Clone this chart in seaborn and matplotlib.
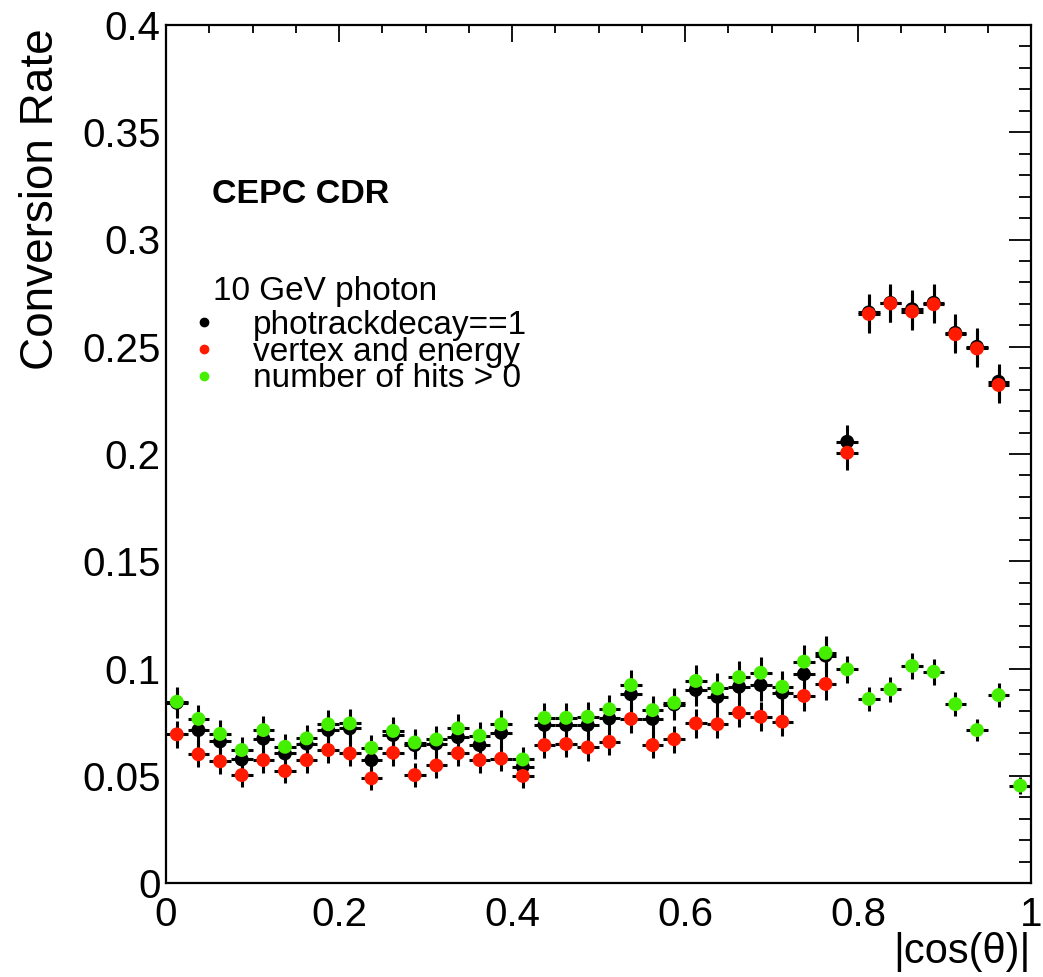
import numpy as np
import pandas as pd
import matplotlib
matplotlib.use("Agg")
import matplotlib.pyplot as plt
import seaborn as sns
from matplotlib.lines import Line2D
from matplotlib.ticker import MultipleLocator, FuncFormatter

# ---------------- data ----------------
bin_width = 0.025
cos_theta = np.arange(40) * bin_width + bin_width / 2  # bin centres of |cos(theta)|

series_names = ["photrackdecay==1", "vertex and energy", "number of hits > 0"]
series_colors = ["#000000", "#ff1a00", "#44f000"]

rate_photrack = [0.0840, 0.0713, 0.0660, 0.0576, 0.0673, 0.0604, 0.0650, 0.0713, 0.0721, 0.0573,
                 0.0690, 0.0643, 0.0650, 0.0680, 0.0643, 0.0700, 0.0542, 0.0737, 0.0737, 0.0737,
                 0.0767, 0.0880, 0.0765, 0.0832, 0.0900, 0.0868, 0.0915, 0.0923, 0.0887, 0.0974,
                 0.1060, 0.2057, 0.2660, 0.2705, 0.2675, 0.2705, 0.2565, 0.2500, 0.2337, np.nan]
err_photrack = [0.0070, 0.0068, 0.0066, 0.0062, 0.0066, 0.0063, 0.0065, 0.0068, 0.0068, 0.0062,
                0.0067, 0.0065, 0.0065, 0.0067, 0.0065, 0.0068, 0.0060, 0.0069, 0.0069, 0.0069,
                0.0070, 0.0074, 0.0070, 0.0072, 0.0075, 0.0073, 0.0075, 0.0075, 0.0074, 0.0077,
                0.0080, 0.0080, 0.0088, 0.0088, 0.0088, 0.0088, 0.0087, 0.0086, 0.0084, np.nan]

rate_vertex = [0.0693, 0.0600, 0.0567, 0.0503, 0.0573, 0.0522, 0.0573, 0.0620, 0.0604, 0.0488,
               0.0607, 0.0503, 0.0548, 0.0605, 0.0573, 0.0580, 0.0499, 0.0643, 0.0648, 0.0632,
               0.0658, 0.0765, 0.0643, 0.0670, 0.0744, 0.0740, 0.0794, 0.0775, 0.0752, 0.0872,
               0.0928, 0.2006, 0.2653, 0.2702, 0.2664, 0.2698, 0.2558, 0.2492, 0.2322, np.nan]
err_vertex = [0.0063, 0.0060, 0.0058, 0.0055, 0.0058, 0.0056, 0.0058, 0.0060, 0.0060, 0.0054,
              0.0060, 0.0055, 0.0057, 0.0060, 0.0058, 0.0059, 0.0055, 0.0061, 0.0061, 0.0061,
              0.0062, 0.0066, 0.0061, 0.0063, 0.0066, 0.0066, 0.0068, 0.0067, 0.0066, 0.0071,
              0.0073, 0.0080, 0.0088, 0.0088, 0.0088, 0.0088, 0.0087, 0.0086, 0.0084, np.nan]

rate_hits = [0.0845, 0.0765, 0.0695, 0.0620, 0.0713, 0.0635, 0.0674, 0.0740, 0.0744, 0.0630,
             0.0709, 0.0655, 0.0669, 0.0721, 0.0687, 0.0740, 0.0576, 0.0770, 0.0770, 0.0775,
             0.0810, 0.0923, 0.0806, 0.0840, 0.0942, 0.0907, 0.0960, 0.0980, 0.0915, 0.1032,
             0.1073, 0.0996, 0.0858, 0.0903, 0.1012, 0.0985, 0.0834, 0.0713, 0.0876, 0.0454]
err_hits = [0.0068, 0.0066, 0.0063, 0.0060, 0.0064, 0.0061, 0.0063, 0.0066, 0.0066, 0.0061,
            0.0064, 0.0062, 0.0063, 0.0065, 0.0063, 0.0066, 0.0058, 0.0067, 0.0067, 0.0067,
            0.0068, 0.0072, 0.0068, 0.0070, 0.0073, 0.0072, 0.0074, 0.0074, 0.0072, 0.0076,
            0.0077, 0.0062, 0.0058, 0.0058, 0.0061, 0.0060, 0.0056, 0.0052, 0.0055, 0.0040]

x_ticks = [0, 0.2, 0.4, 0.6, 0.8, 1.0]
y_ticks = [0, 0.05, 0.1, 0.15, 0.2, 0.25, 0.3, 0.35, 0.4]

# ---------------- style ----------------
sns.set_theme(style="white")
plt.rcParams["font.family"] = ["Liberation Sans", "DejaVu Sans"]
plt.rcParams["axes.linewidth"] = 1.6
plt.rcParams["axes.edgecolor"] = "black"
plt.rcParams["text.color"] = "black"
plt.rcParams["axes.labelcolor"] = "black"
plt.rcParams["xtick.color"] = "black"
plt.rcParams["ytick.color"] = "black"

W, H = 1043, 977
fig = plt.figure(figsize=(W / 100, H / 100), dpi=100)
x0, x1, y_top, y_bot = 166, 1031, 25, 883
ax = fig.add_axes([x0 / W, 1 - y_bot / H, (x1 - x0) / W, (y_bot - y_top) / H])

frames = []
for name, rate, err in zip(series_names,
                           [rate_photrack, rate_vertex, rate_hits],
                           [err_photrack, err_vertex, err_hits]):
    frames.append(pd.DataFrame({"cos": cos_theta, "rate": rate, "err": err, "series": name}))
df = pd.concat(frames, ignore_index=True).dropna()

# error bars (black, as in ROOT)
for name in series_names:
    d = df[df.series == name]
    ax.errorbar(d["cos"], d["rate"], xerr=bin_width / 2, yerr=d["err"], fmt="none",
                ecolor="black", elinewidth=2.2, capsize=0, zorder=2)

sns.scatterplot(data=df, x="cos", y="rate", hue="series", hue_order=series_names,
                palette=series_colors, s=100, linewidth=0, legend=False, ax=ax, zorder=3)

ax.set_xlim(0, 1)
ax.set_ylim(0, 0.4)
ax.set_xticks(x_ticks)
ax.set_yticks(y_ticks)
ax.xaxis.set_minor_locator(MultipleLocator(0.05))
ax.yaxis.set_minor_locator(MultipleLocator(0.01))
fmt = FuncFormatter(lambda v, p: "%g" % round(v, 3))
ax.xaxis.set_major_formatter(fmt)
ax.yaxis.set_major_formatter(fmt)

ax.tick_params(axis="both", which="both", direction="in", top=True, right=True,
               colors="black", width=1.3, labelsize=29)
ax.tick_params(axis="x", which="major", length=12, pad=9)
ax.tick_params(axis="x", which="minor", length=6)
ax.tick_params(axis="y", which="major", length=16, pad=4)
ax.tick_params(axis="y", which="minor", length=8.5)

ax.set_xlabel("|cos(θ)|", fontsize=30, loc="right", color="black")
ax.xaxis.set_label_coords(1.0, -0.057)
ax.set_ylabel("Conversion Rate", fontsize=33, loc="top", color="black")
ax.yaxis.set_label_coords(-0.119, 0.9965)

for s in ax.spines.values():
    s.set_visible(True)
    s.set_color("black")

fig.text(212 / W, 1 - 203 / H, "CEPC CDR", fontsize=24.5, fontweight="bold",
         va="baseline", color="black")
fig.text(213 / W, 1 - 300 / H, "10 GeV photon", fontsize=24, va="baseline", color="black")

handles = [Line2D([], [], marker="o", linestyle="none", color=c, markersize=6) for c in series_colors]
leg = fig.legend(handles, series_names, loc="upper left", bbox_to_anchor=(187 / W, 1 - 310 / H),
                 frameon=False, fontsize=24, handlelength=1.0, handletextpad=0.98,
                 labelspacing=-0.13, borderpad=0, borderaxespad=0, labelcolor="black")

fig.savefig("out.png", dpi=100)
